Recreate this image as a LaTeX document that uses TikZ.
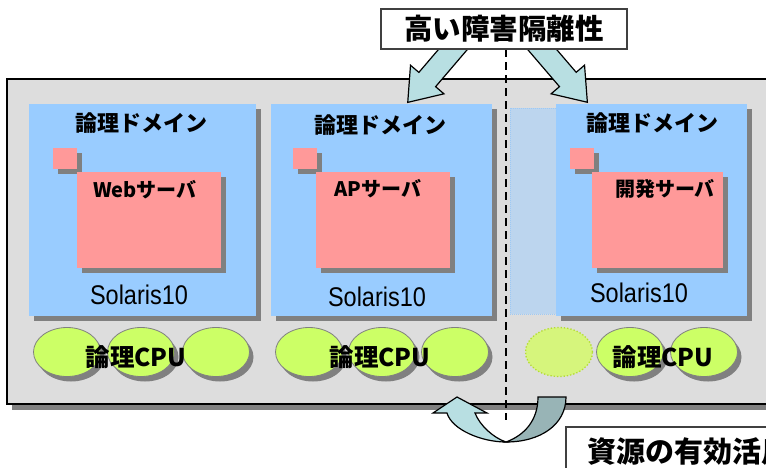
\documentclass[tikz,border=0pt]{standalone}
\usepackage{fontspec}
\setmainfont{Noto Sans CJK JP}
\newfontfamily\solfont{Liberation Sans}[FakeStretch=0.87]
\usetikzlibrary{shapes.geometric,shadows,positioning}

\definecolor{paneGray}{HTML}{DDDDDD}
\definecolor{domBlue}{HTML}{99CCFF}
\definecolor{srvPink}{HTML}{FF9999}
\definecolor{cpuGreen}{HTML}{CCFF66}
\definecolor{spareGreen}{HTML}{D6F57C}
\definecolor{spareLine}{HTML}{B4DC32}
\definecolor{shadeGray}{HTML}{808080}
\definecolor{slotBlue}{HTML}{BCD5EE}
\definecolor{slotLine}{HTML}{9DC9F5}
\definecolor{arrowCyan}{HTML}{B8DFE2}
\definecolor{arrowTeal}{HTML}{98B4B6}
\definecolor{frameGray}{HTML}{404040}

\begin{document}
\begin{tikzpicture}[x=1pt,y=-1pt,
  every node/.style={inner sep=0pt,outer sep=0pt},
  pane/.style={rectangle,draw=black,line width=2pt,fill=paneGray,
    drop shadow={shadow xshift=5pt,shadow yshift=-6pt,fill=shadeGray,opacity=1}},
  domainbox/.style={rectangle,fill=domBlue,minimum height=212pt,
    drop shadow={shadow xshift=5pt,shadow yshift=-5pt,fill=shadeGray,opacity=1}},
  slot/.style={rectangle,fill=slotBlue,draw=slotLine,densely dotted,line width=1pt},
  srvbox/.style={rectangle,fill=srvPink,
    drop shadow={shadow xshift=5pt,shadow yshift=-5pt,fill=shadeGray,opacity=1}},
  cpu/.style={ellipse,fill=cpuGreen,draw=shadeGray,line width=0.8pt,
    minimum width=67pt,minimum height=49pt,
    drop shadow={shadow xshift=4pt,shadow yshift=-5pt,fill=shadeGray,opacity=1}},
  sparecpu/.style={ellipse,fill=spareGreen,draw=spareLine,dotted,line width=1.3pt,
    minimum width=67pt,minimum height=49pt},
  domtitle/.style={font=\fontsize{22}{25}\selectfont\bfseries},
  srvlabel/.style={font=\fontsize{20}{23}\selectfont\bfseries},
  oslabel/.style={font=\solfont\fontsize{27}{30}\selectfont},
  cpulabel/.style={font=\fontsize{24.5}{27}\selectfont\bfseries},
  titlebox/.style={rectangle,fill=white,draw=frameGray,line width=1.5pt,
    minimum width=246pt,minimum height=40pt,font=\fontsize{28.5}{31}\selectfont\bfseries},
  gainbox/.style={rectangle,fill=white,draw=frameGray,line width=1.5pt,
    minimum height=50pt,inner xsep=21pt,font=\fontsize{29}{32}\selectfont\bfseries},
  titlearrow/.style={draw=black,line width=1.2pt,fill=arrowCyan,line join=miter},
  partition/.style={draw=black,line width=1.4pt,dash pattern=on 8pt off 5pt}]

  \useasboundingbox (0,0) rectangle (766,467);
  \clip (0,0) rectangle (766,467);

  % server pane
  \node[pane,minimum width=813pt,minimum height=325pt] (pane) at (413.5,241.5) {};

  % partition line
  \coordinate (cut) at (506,420);
  \node[titlebox] (title) at (504,29) {高い障害隔離性};
  \draw[partition] (title.south -| cut) -- (cut);

  % arrows out of the title
  \begin{scope}[shift={(461,40)},rotate=229.5]
    \draw[titlearrow] (0,-11) -- (52,-11) -- (52,-22) -- (82,0) -- (52,22) -- (52,11) -- (0,11) -- cycle;
  \end{scope}
  \begin{scope}[shift={(534,40)},rotate=310.6]
    \draw[titlearrow] (0,-11) -- (52,-11) -- (52,-22) -- (82,0) -- (52,22) -- (52,11) -- (0,11) -- cycle;
  \end{scope}
  \node[titlebox] at (title) {高い障害隔離性};

  % free slot left of the third domain
  \node[slot,minimum width=50pt,minimum height=206pt] (slot) at (535,211) {};

  % logical domains
  \foreach \i/\cx/\w/\tx/\ty in {1/142.5/227/141/123, 2/381.5/221/380/125, 3/651.5/191/652/123} {
    \node[domainbox,minimum width=\w pt] (dom\i) at (\cx,209.5) {};
    \node[domtitle] (domtitle\i) at (\tx,\ty) {論理ドメイン};
  }

  % servers
  \foreach \i/\sx/\bx/\bw in {1/65/149/144, 2/304.5/383/134, 3/582/657.5/131} {
    \node[srvbox,minimum width=24pt,minimum height=21pt] (tag\i) at (\sx,158.5) {};
    \node[srvbox,minimum width=\bw pt,minimum height=96pt] (srv\i) at (\bx,220) {};
  }
  \node[srvlabel] (srvlabel1) at (145,190) {Webサーバ};
  \node[srvlabel] (srvlabel2) at (378,189) {APサーバ};
  \node[srvlabel] (srvlabel3) at (665,189) {開発サーバ};

  \foreach \i/\ox/\oy in {1/139/295, 2/377/297, 3/639/293}
    \node[oslabel] (os\i) at (\ox,\oy) {Solaris10};

  % logical CPUs
  \foreach \i/\cx in {1/67,2/141,3/216,4/309,5/382,6/455}
    \node[cpu] (cpu\i) at (\cx,352) {};
  \node[sparecpu] (cpu7) at (559,352) {};
  \foreach \i/\cx in {8/630,9/704}
    \node[cpu] (cpu\i) at (\cx,352) {};
  \foreach \i/\cx in {1/136,2/380,3/663}
    \node[cpulabel] (cpulabel\i) at (\cx,357) {論理CPU};

  % resource sharing
  \node[gainbox,anchor=north west] (gain) at (566,427) {資源の有効活用};
  \draw[titlearrow,fill=arrowTeal] (538,397) .. controls (538,420) and (525,435) .. (506,442)
    .. controls (540,442) and (566,425) .. (566,397) -- cycle;
  \draw[titlearrow] (506,442) .. controls (482,442) and (452,430) .. (447,413)
    -- (433,413) -- (457,397) -- (487,413) -- (475,413)
    .. controls (480,426) and (494,438) .. (506,442) -- cycle;
\end{tikzpicture}
\end{document}
